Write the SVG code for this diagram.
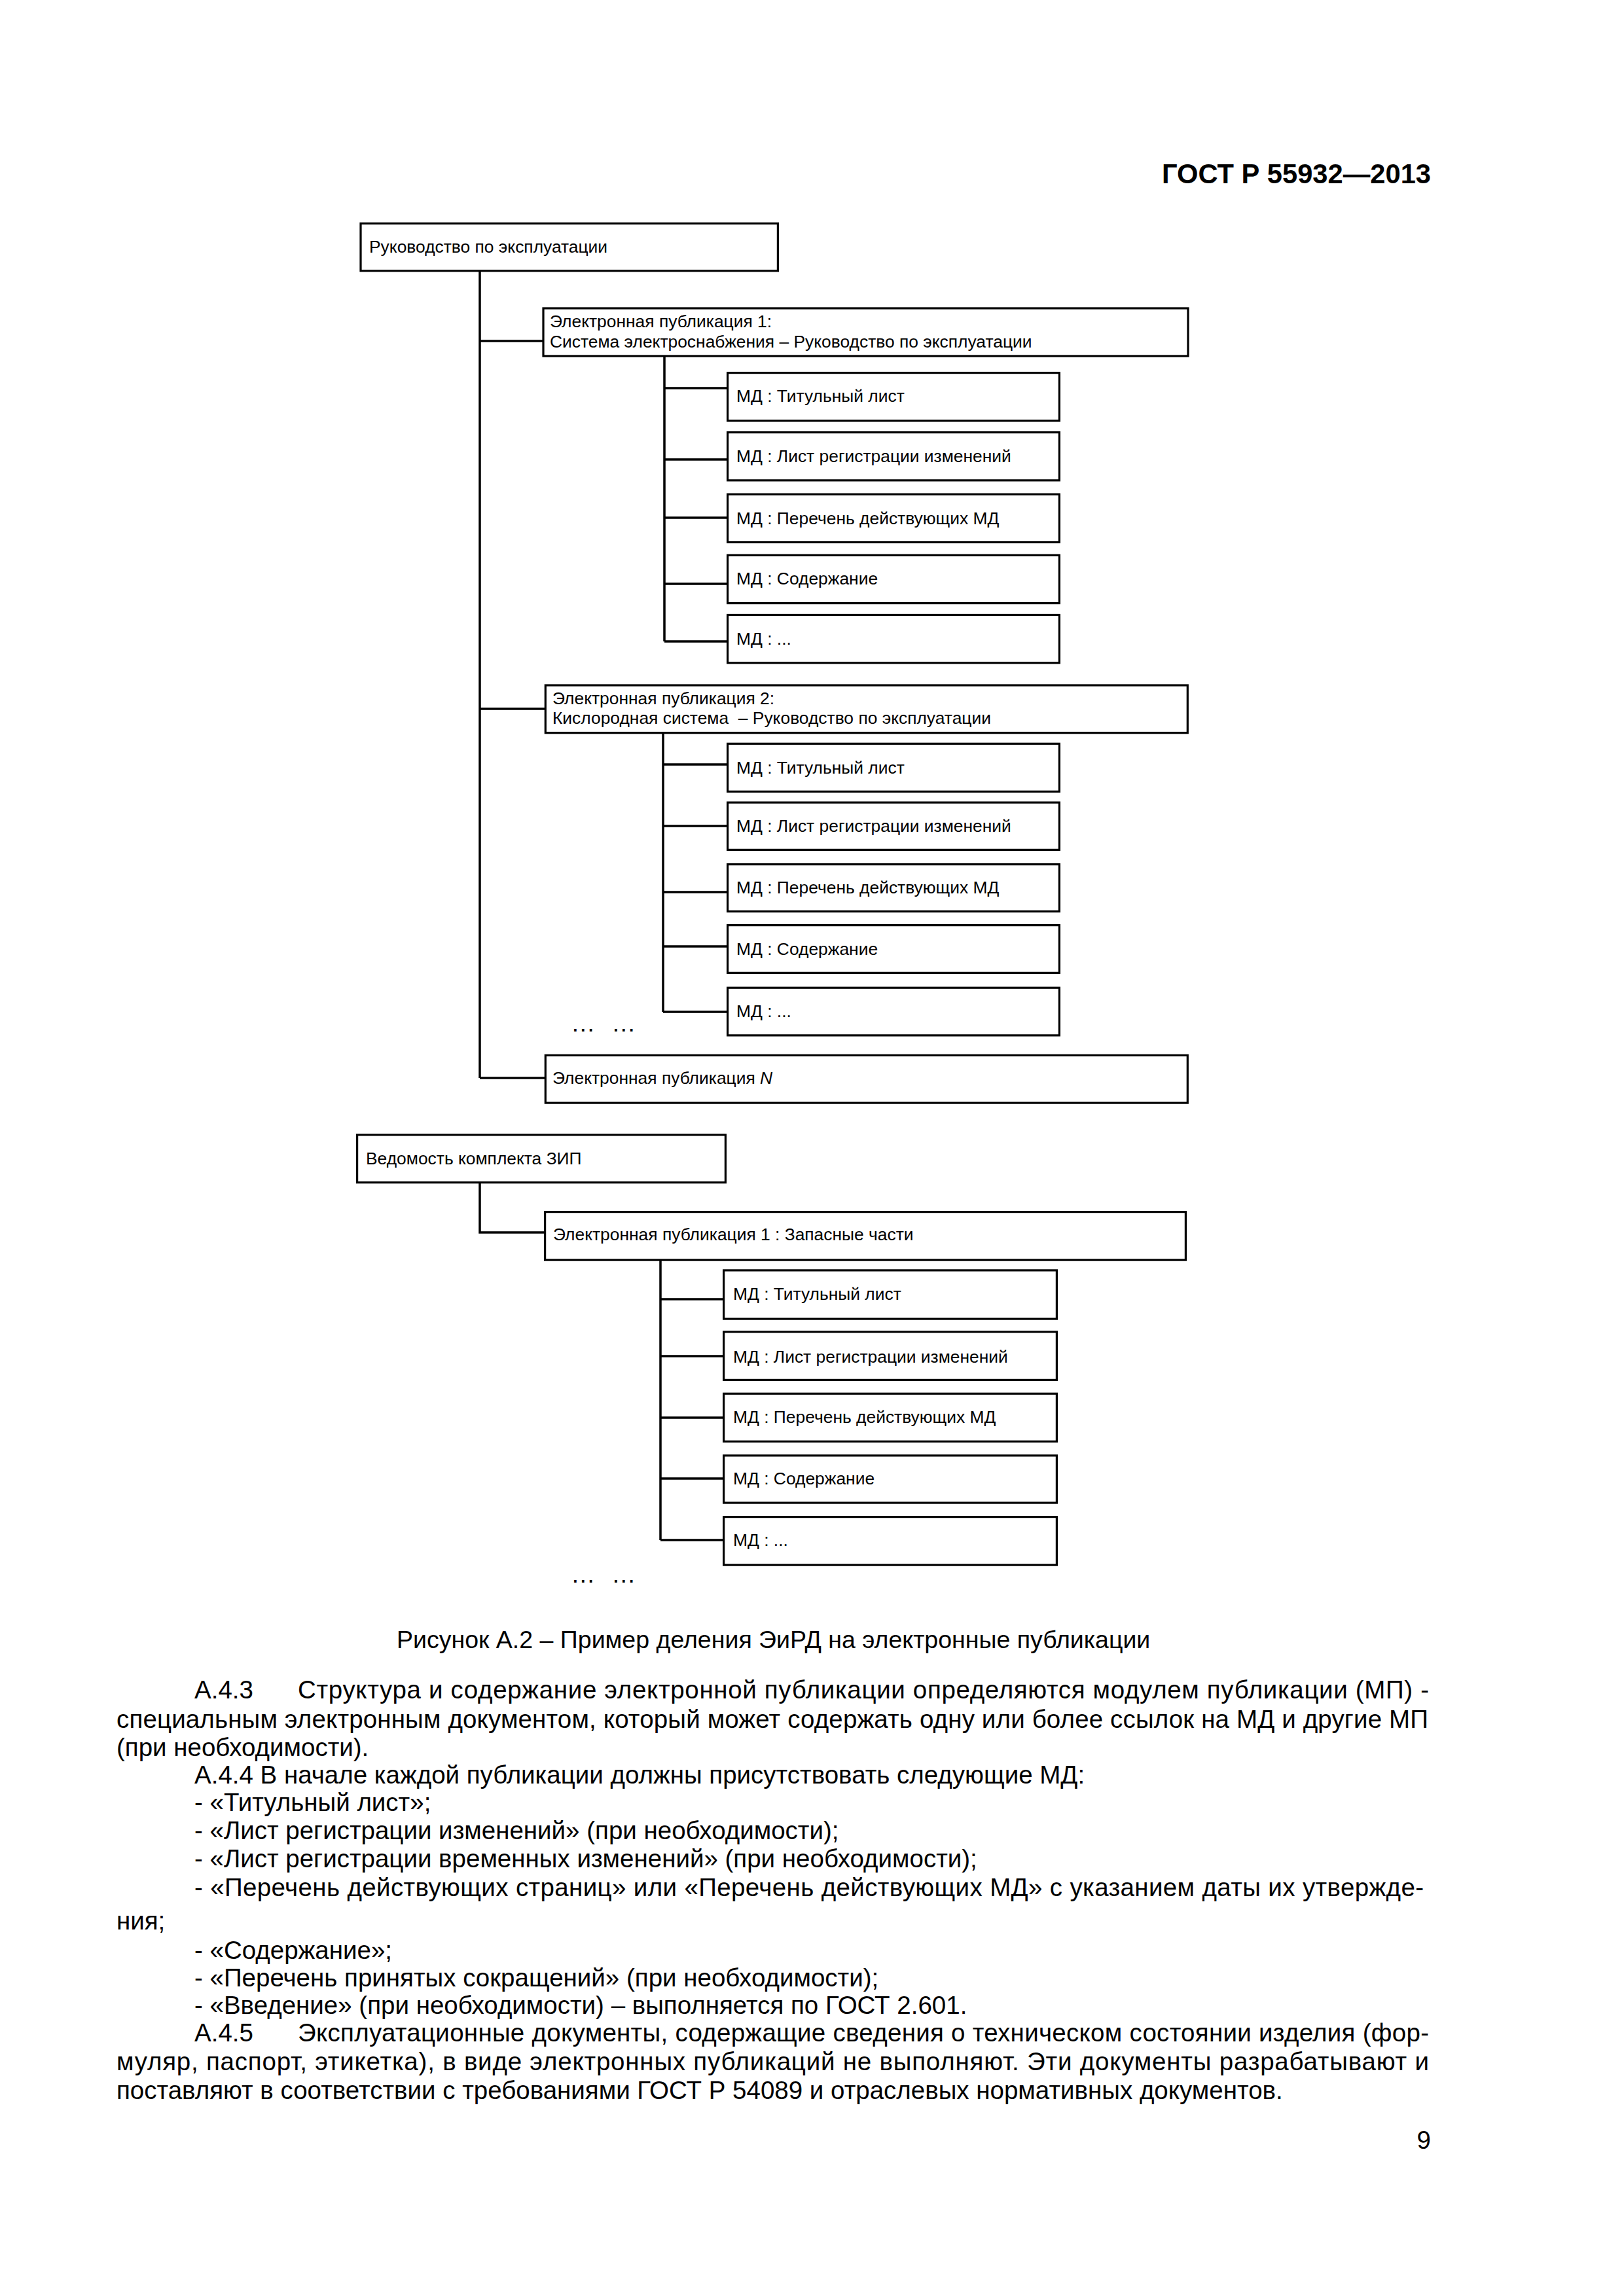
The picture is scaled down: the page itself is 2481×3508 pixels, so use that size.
<svg xmlns="http://www.w3.org/2000/svg" width="2481" height="3508" viewBox="0 0 2481 3508">
<style>
.box{fill:#fff;stroke:#000;stroke-width:3.2}
.ln{fill:none;stroke:#000;stroke-width:3.5}
.t{font-family:"Liberation Sans",Arial,sans-serif;font-size:26.4px;fill:#000}
.b{font-family:"Liberation Sans",Arial,sans-serif;font-size:38.5px;fill:#000}
.c{font-family:"Liberation Sans",Arial,sans-serif;font-size:37.5px;fill:#000}
.h{font-family:"Liberation Sans",Arial,sans-serif;font-size:43px;font-weight:bold;fill:#000}
</style>
<rect x="0" y="0" width="2481" height="3508" fill="#fff"/>
<text class="h" x="1775" y="280" textLength="411" lengthAdjust="spacingAndGlyphs">ГОСТ Р 55932—2013</text>

<g id="connectors">
<path class="ln" d="M733 415V1647M733 521H829M733 1083H832M733 1647H832"/>
<path class="ln" d="M1015 545V980M1015 593H1110M1015 702H1110M1015 791H1110M1015 892H1110M1015 980H1110"/>
<path class="ln" d="M1013 1121V1546M1013 1168H1110M1013 1262H1110M1013 1363H1110M1013 1446H1110M1013 1546H1110"/>
<path class="ln" d="M733 1808V1883H831"/>
<path class="ln" d="M1009 1926V2353M1009 1985H1104M1009 2072H1104M1009 2166H1104M1009 2259H1104M1009 2353H1104"/>
</g>

<g id="n-root1"><rect class="box" x="551" y="341.4" width="637.4" height="72.4"/><text class="t" x="564" y="386">Руководство по эксплуатации</text></g>

<g id="n-ep1"><rect class="box" x="830" y="471" width="985" height="73"/><text class="t" x="840" y="499.5">Электронная публикация 1:</text><text class="t" x="840" y="530.7">Система электроснабжения – Руководство по эксплуатации</text></g>
<g id="n-ep1-md1"><rect class="box" x="1111.6" y="569.6" width="506.8" height="73.3"/><text class="t" x="1125" y="614">МД : Титульный лист</text></g>
<g id="n-ep1-md2"><rect class="box" x="1111.6" y="660.6" width="506.8" height="73.3"/><text class="t" x="1125" y="706.4">МД : Лист регистрации изменений</text></g>
<g id="n-ep1-md3"><rect class="box" x="1111.6" y="755.2" width="506.8" height="73.3"/><text class="t" x="1125" y="801">МД : Перечень действующих МД</text></g>
<g id="n-ep1-md4"><rect class="box" x="1111.6" y="848.3" width="506.8" height="73.3"/><text class="t" x="1125" y="893">МД : Содержание</text></g>
<g id="n-ep1-md5"><rect class="box" x="1111.6" y="939.5" width="506.8" height="73.3"/><text class="t" x="1125" y="984.5">МД : ...</text></g>

<g id="n-ep2"><rect class="box" x="833.3" y="1047" width="981" height="72.7"/><text class="t" x="844" y="1075.7">Электронная публикация 2:</text><text class="t" x="844" y="1106.1" xml:space="preserve">Кислородная система  – Руководство по эксплуатации</text></g>
<g id="n-ep2-md1"><rect class="box" x="1111.6" y="1136.3" width="506.8" height="73.1"/><text class="t" x="1125" y="1181.5">МД : Титульный лист</text></g>
<g id="n-ep2-md2"><rect class="box" x="1111.6" y="1226.1" width="506.8" height="72.3"/><text class="t" x="1125" y="1270.5">МД : Лист регистрации изменений</text></g>
<g id="n-ep2-md3"><rect class="box" x="1111.6" y="1320.6" width="506.8" height="72"/><text class="t" x="1125" y="1365">МД : Перечень действующих МД</text></g>
<g id="n-ep2-md4"><rect class="box" x="1111.6" y="1413.6" width="506.8" height="72.8"/><text class="t" x="1125" y="1458.5">МД : Содержание</text></g>
<g id="n-ep2-md5"><rect class="box" x="1111.6" y="1509.2" width="506.8" height="72.7"/><text class="t" x="1125" y="1553.5">МД : ...</text></g>
<g id="n-dots1"><text class="c" x="872" y="1576">…</text><text class="c" x="934" y="1576">…</text></g>
<g id="n-epn"><rect class="box" x="833.3" y="1612.4" width="981" height="72.7"/><text class="t" x="844" y="1655.5">Электронная публикация <tspan font-style="italic">N</tspan></text></g>

<g id="n-root2"><rect class="box" x="545.6" y="1733.9" width="562.8" height="72.8"/><text class="t" x="559" y="1779">Ведомость комплекта ЗИП</text></g>
<g id="n-zip-ep1"><rect class="box" x="832.6" y="1851.6" width="978.8" height="73.5"/><text class="t" x="845" y="1895">Электронная публикация 1 : Запасные части</text></g>
<g id="n-zip-md1"><rect class="box" x="1105.6" y="1940.9" width="508.8" height="74.2"/><text class="t" x="1120" y="1986">МД : Титульный лист</text></g>
<g id="n-zip-md2"><rect class="box" x="1105.6" y="2034.9" width="508.8" height="73.5"/><text class="t" x="1120" y="2081.7">МД : Лист регистрации изменений</text></g>
<g id="n-zip-md3"><rect class="box" x="1105.6" y="2129.3" width="508.8" height="73.1"/><text class="t" x="1120" y="2174">МД : Перечень действующих МД</text></g>
<g id="n-zip-md4"><rect class="box" x="1105.6" y="2223.9" width="508.8" height="72.2"/><text class="t" x="1120" y="2267.7">МД : Содержание</text></g>
<g id="n-zip-md5"><rect class="box" x="1105.6" y="2317.6" width="508.8" height="73.5"/><text class="t" x="1120" y="2362.3">МД : ...</text></g>
<g id="n-dots2"><text class="c" x="872" y="2418">…</text><text class="c" x="934" y="2418">…</text></g>

<g id="body">
<text class="c" x="606" y="2518">Рисунок А.2 – Пример деления ЭиРД на электронные публикации</text>
<text class="b" x="297" y="2595">А.4.3</text>
<text class="b" x="455" y="2595" textLength="1728" lengthAdjust="spacing">Структура и содержание электронной публикации определяются модулем публикации (МП) -</text>
<text class="b" x="178" y="2640" textLength="2004" lengthAdjust="spacing">специальным электронным документом, который может содержать одну или более ссылок на МД и другие МП</text>
<text class="b" x="178" y="2683">(при необходимости).</text>
<text class="b" x="297" y="2725">А.4.4 В начале каждой публикации должны присутствовать следующие МД:</text>
<text class="b" x="297" y="2767">- «Титульный лист»;</text>
<text class="b" x="297" y="2810">- «Лист регистрации изменений» (при необходимости);</text>
<text class="b" x="297" y="2853">- «Лист регистрации временных изменений» (при необходимости);</text>
<text class="b" x="297" y="2897" textLength="1878" lengthAdjust="spacing">- «Перечень действующих страниц» или «Перечень действующих МД» с указанием даты их утвержде-</text>
<text class="b" x="178" y="2948">ния;</text>
<text class="b" x="297" y="2993">- «Содержание»;</text>
<text class="b" x="297" y="3035">- «Перечень принятых сокращений» (при необходимости);</text>
<text class="b" x="297" y="3077">- «Введение» (при необходимости) – выполняется по ГОСТ 2.601.</text>
<text class="b" x="297" y="3119">А.4.5</text>
<text class="b" x="455" y="3119" textLength="1728" lengthAdjust="spacing">Эксплуатационные документы, содержащие сведения о техническом состоянии изделия (фор-</text>
<text class="b" x="178" y="3163" textLength="2005" lengthAdjust="spacing">муляр, паспорт, этикетка), в виде электронных публикаций не выполняют. Эти документы разрабатывают и</text>
<text class="b" x="178" y="3207">поставляют в соответствии с требованиями ГОСТ Р 54089 и отраслевых нормативных документов.</text>
<text class="b" x="2186" y="3283" text-anchor="end" font-size="40">9</text>
</g>
</svg>
